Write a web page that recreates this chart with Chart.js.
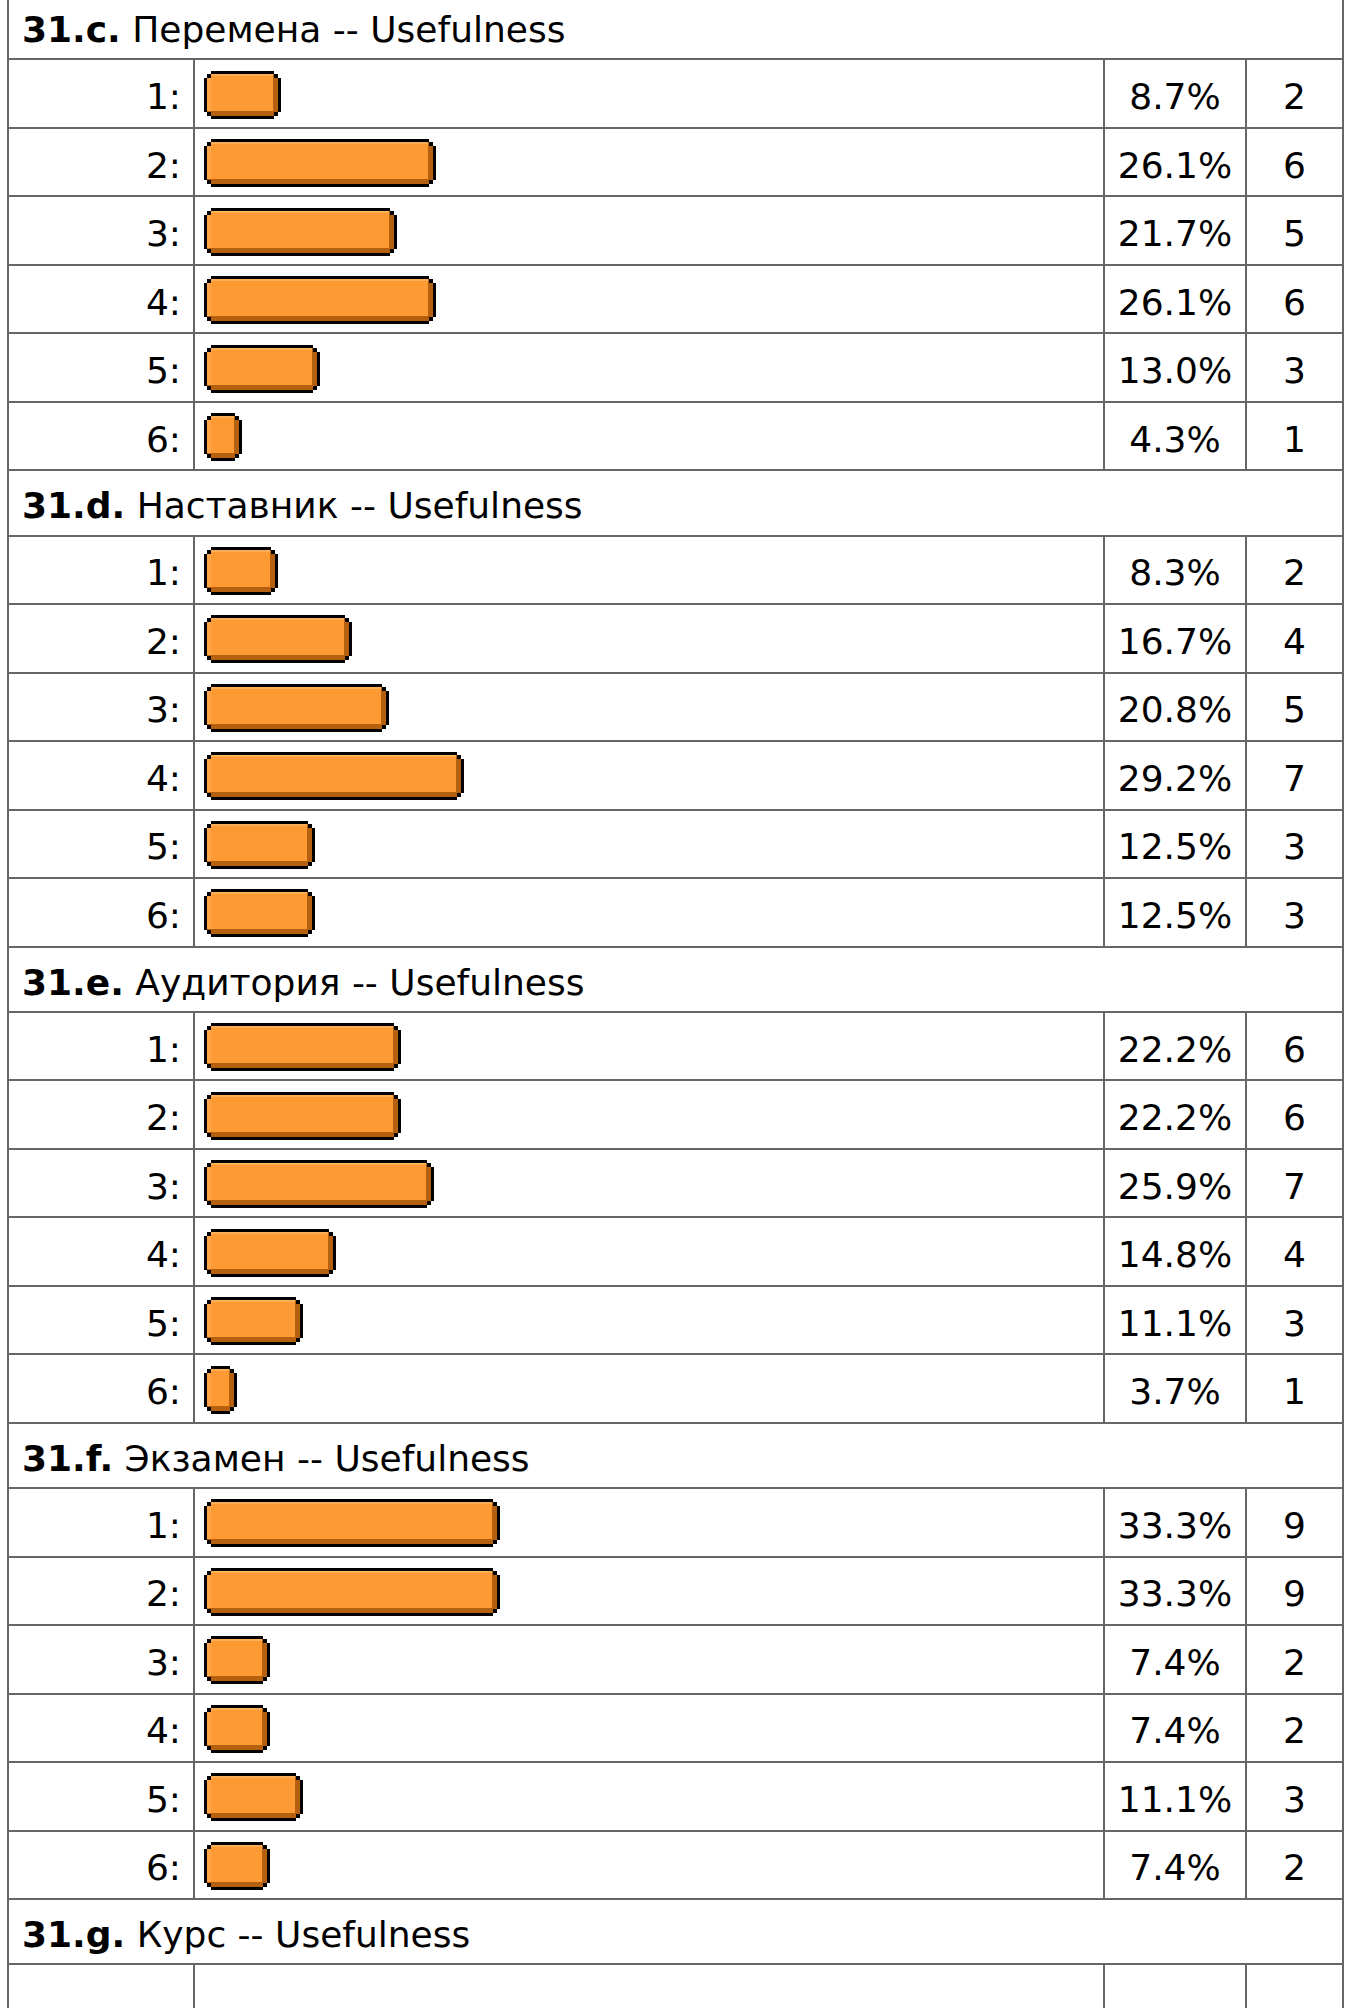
<!DOCTYPE html>
<html lang="ru">
<head>
<meta charset="utf-8">
<title>31. Usefulness</title>
<script src="https://cdn.jsdelivr.net/npm/chart.js@4.4.1/dist/chart.umd.min.js"></script>
<style>
  html, body { margin: 0; padding: 0; overflow: hidden; background: #fff; }
  body { font-family: "DejaVu Sans", Verdana, sans-serif; font-size: 36px; color: #000; }
  #results { position: absolute; left: 7px; top: -7px; width: 1337px; border-collapse: collapse; table-layout: fixed; }
  #results td { border: 2px solid #666; padding: 6px 0 0 0; vertical-align: middle; white-space: nowrap; overflow: hidden; }
  #results tr.question { height: 65.25px; }
  #results tr.question td { padding-left: 13px; }
  #results tr.answer { height: 68.5px; }
  #results td.rate { text-align: right; padding-right: 12px; }
  #results td.bar { padding: 2px 0 0 9px; }
  #results td.pct, #results td.cnt { text-align: center; }
  #results td.bar canvas { display: block; }
</style>
</head>
<body>
<table id="results">
  <colgroup>
    <col style="width:186px"><col style="width:910px"><col style="width:142px"><col style="width:97px">
  </colgroup>
  <tbody></tbody>
</table>
<script>
// question numbers and titles
const questionNums = ['31.c.', '31.d.', '31.e.', '31.f.', '31.g.'];
const questionTitles = [
  'Перемена -- Usefulness',
  'Наставник -- Usefulness',
  'Аудитория -- Usefulness',
  'Экзамен -- Usefulness',
  'Курс -- Usefulness'
];
const ratings = ['1:', '2:', '3:', '4:', '5:', '6:'];

// percent of answers per rating, and answer counts
const pctC = [8.7, 26.1, 21.7, 26.1, 13.0, 4.3];
const cntC = [2, 6, 5, 6, 3, 1];
const pctD = [8.3, 16.7, 20.8, 29.2, 12.5, 12.5];
const cntD = [2, 4, 5, 7, 3, 3];
const pctE = [22.2, 22.2, 25.9, 14.8, 11.1, 3.7];
const cntE = [6, 6, 7, 4, 3, 1];
const pctF = [33.3, 33.3, 7.4, 7.4, 11.1, 7.4];
const cntF = [9, 9, 2, 2, 3, 2];
const pctG = [];
const cntG = [];

const allPct = [pctC, pctD, pctE, pctF, pctG];
const allCnt = [cntC, cntD, cntE, cntF, cntG];

const BAR_FILL = '#fd9a34';
const BAR_LIGHT = '#ffae58';
const BAR_LIGHT_SIDE = '#ffa549';
const BAR_DARK = '#b5600e';

// old-style gif bar: black frame with notched corners, light top/left, dark bottom/right
const pixelBar = {
  id: 'pixelBar',
  beforeDatasetsDraw(chart) {
    const ctx = chart.ctx;
    chart.getDatasetMeta(0).data.forEach(bar => {
      const p = bar.getProps(['x', 'y', 'base', 'height'], true);
      const l = Math.round(Math.min(p.base, p.x));
      const r = Math.round(Math.max(p.base, p.x));
      const t = Math.round(p.y - p.height / 2);
      const b = Math.round(p.y + p.height / 2);
      const w = r - l, h = b - t;
      if (w < 16) return;

      ctx.save();
      ctx.fillStyle = bar.options.borderColor;
      ctx.fillRect(l + 7, t, w - 14, h);
      ctx.fillRect(l + 3, t + 3, w - 6, h - 6);
      ctx.fillRect(l, t + 7, w, h - 14);

      ctx.fillStyle = bar.options.backgroundColor;
      ctx.fillRect(l + 7, t + 3, w - 14, h - 6);
      ctx.fillRect(l + 3, t + 7, w - 6, h - 14);

      ctx.fillStyle = BAR_LIGHT;
      ctx.fillRect(l + 7, t + 3, w - 15, 2);
      ctx.fillStyle = BAR_LIGHT_SIDE;
      ctx.fillRect(l + 3, t + 7, 4, h - 15);

      ctx.fillStyle = BAR_DARK;
      ctx.fillRect(l + 7, b - 8, w - 14, 5);
      ctx.fillRect(l + 3, b - 8, 4, 1);
      ctx.fillRect(r - 8, t + 7, 5, h - 14);
      ctx.fillRect(r - 8, t + 3, 1, h - 6);
      ctx.restore();
    });
    return false;
  }
};

function barChart(canvas, label, value) {
  return new Chart(canvas, {
    type: 'bar',
    data: {
      labels: [label],
      datasets: [{
        data: [value],
        backgroundColor: BAR_FILL,
        borderColor: '#000',
        barThickness: 48
      }]
    },
    options: {
      indexAxis: 'y',
      responsive: false,
      animation: false,
      events: [],
      layout: { padding: 0 },
      scales: {
        x: { display: false, min: 0, max: 99 },
        y: { display: false }
      },
      plugins: {
        legend: { display: false },
        tooltip: { enabled: false }
      }
    },
    plugins: [pixelBar]
  });
}

const tbody = document.querySelector('#results tbody');

questionNums.forEach((num, q) => {
  const head = document.createElement('tr');
  head.className = 'question';
  const hc = document.createElement('td');
  hc.colSpan = 4;
  hc.innerHTML = '<b>' + num + '</b> ' + questionTitles[q];
  head.appendChild(hc);
  tbody.appendChild(head);

  const pct = allPct[q], cnt = allCnt[q];
  const rows = pct.length || 1;
  for (let i = 0; i < rows; i++) {
    const tr = document.createElement('tr');
    tr.className = 'answer';
    const has = i < pct.length;

    const rate = document.createElement('td');
    rate.className = 'rate';
    rate.textContent = has ? ratings[i] : '';
    const barCell = document.createElement('td');
    barCell.className = 'bar';
    const pc = document.createElement('td');
    pc.className = 'pct';
    pc.textContent = has ? pct[i].toFixed(1) + '%' : '';
    const cc = document.createElement('td');
    cc.className = 'cnt';
    cc.textContent = has ? cnt[i] : '';

    tr.append(rate, barCell, pc, cc);
    tbody.appendChild(tr);

    if (has) {
      const cv = document.createElement('canvas');
      cv.width = 880;
      cv.height = 50;
      barCell.appendChild(cv);
      barChart(cv, ratings[i], pct[i]);
    }
  }
});
</script>
</body>
</html>
